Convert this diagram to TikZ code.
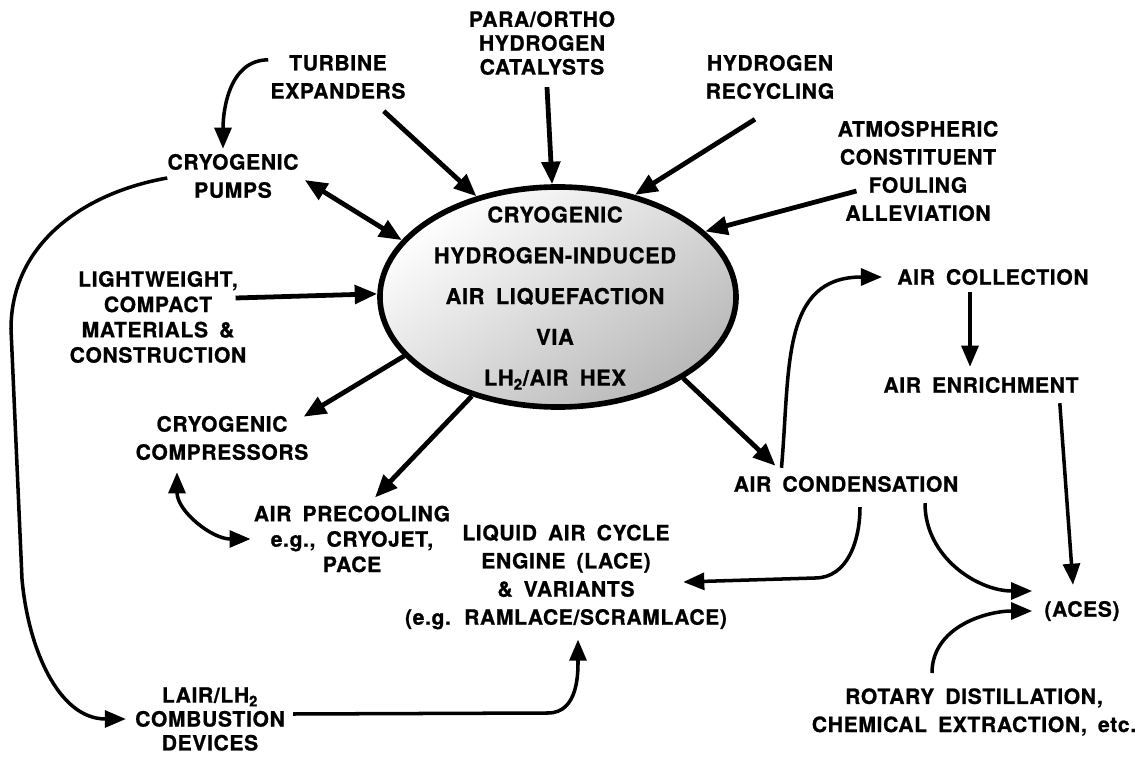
\documentclass[tikz,border=0pt]{standalone}
\usepackage{fontspec}
\setmainfont{TeX Gyre Heros}[WordSpace=1.7, LetterSpace=3, BoldFeatures={FakeBold=0.8}]
\usetikzlibrary{arrows.meta, shapes.geometric, positioning}

\newcommand{\lblfont}{\bfseries\fontsize{15}{20}\selectfont}
\newcommand{\hexfont}{\bfseries\fontsize{15.5}{29}\selectfont}

\tikzset{
  lbl/.style={font=\lblfont, align=center, inner sep=0pt},
  spoke/.style={-{Triangle[length=16pt,width=13pt]}, line width=3.4pt},
  dblspoke/.style={{Triangle[length=16pt,width=13pt]}-{Triangle[length=16pt,width=13pt]}, line width=3.4pt},
  arr/.style={-{Triangle[length=15pt,width=12pt]}, line width=2.5pt},
  dblarr/.style={{Triangle[length=15pt,width=12pt]}-{Triangle[length=15pt,width=12pt]}, line width=2.5pt},
  hexoval/.style={ellipse, draw, line width=4pt, minimum width=8.9cm, minimum height=5.5cm,
    inner sep=0pt, top color=white, bottom color=black!28, shading angle=35},
}

\begin{document}
\begin{tikzpicture}[x=0.025cm, y=0.025cm]
  \useasboundingbox (0,0) rectangle (1147,759);
  % Central oval
  \node[hexoval] (hex) at (558,462) {};
  \node[font=\hexfont, align=center, inner sep=0pt] (hextext) at (555,461)
    {CRYOGENIC\\HYDROGEN-INDUCED\\AIR LIQUEFACTION\\VIA\\LH\textsubscript{2}/AIR HEX};
  % Labels round the top
  \node[lbl] (turbine) at (338,682) {TURBINE\\EXPANDERS};
  \node[lbl] (catalyst) at (542,716) {PARA/ORTHO\\[-3pt]HYDROGEN\\[-3pt]CATALYSTS};
  \node[lbl] (recycling) at (770,682) {HYDROGEN\\RECYCLING};
  \node[lbl] (fouling) at (918,588) {ATMOSPHERIC\\CONSTITUENT\\FOULING\\ALLEVIATION};
  % Labels on the left
  \node[lbl] (pumps) at (233,583) {CRYOGENIC\\PUMPS};
  \node[lbl] (lightweight) at (158,442) {LIGHTWEIGHT,\\[-2pt]COMPACT\\[-2pt]MATERIALS \&\\[-2pt]CONSTRUCTION};
  \node[lbl] (compressors) at (222,321) {CRYOGENIC\\COMPRESSORS};
  \node[lbl] (precooling) at (352,220) {AIR PRECOOLING\\[-2pt]e.g., CRYOJET,\\[-2pt]PACE};
  \node[lbl] (combustion) at (210,40) {LAIR/LH\textsubscript{2}\\[-3pt]COMBUSTION\\[-3pt]DEVICES};
  % Labels at the bottom and right
  \node[lbl] (lace) at (566,182) {LIQUID AIR CYCLE\\ENGINE (LACE)\\\& VARIANTS\\(e.g. RAMLACE/SCRAMLACE)};
  \node[lbl] (collection) at (993,482) {AIR COLLECTION};
  \node[lbl] (enrichment) at (981,374) {AIR ENRICHMENT};
  \node[lbl] (condensation) at (846,275) {AIR CONDENSATION};
  \node[lbl] (aces) at (1082,148) {(ACES)};
  \node[lbl] (rotary) at (974,47) {ROTARY DISTILLATION,\\CHEMICAL EXTRACTION, etc.};
  % Spokes into the oval
  \draw[spoke] ([shift={(-22,-12)}]turbine.south east) -- (hex.129);
  \draw[spoke] ([shift={(5,-12)}]catalyst.south) -- (hex.93);
  \draw[spoke] ([shift={(-15,-20)}]recycling.south) -- (hex.53);
  \draw[spoke] ([shift={(19,-20)}]fouling.west) -- (hex.24);
  \draw[spoke] ([shift={(-11,19)}]lightweight.east) -- (hex.179);
  \draw[dblspoke] ([shift={(6,-4)}]pumps.east) -- (hex.160);
  % Spokes out of the oval
  \draw[spoke] (hex.201) -- ([shift={(-5,-1)}]compressors.north east);
  \draw[spoke] (hex.229) -- ([shift={(23,8)}]precooling.north);
  \draw[spoke] (hex.-33) -- ([shift={(42,10)}]condensation.north west);
  % Left side loops
  \draw[arr] ([shift={(-2,-5)}]turbine.north west) to[out=180,in=90] ([shift={(-10,5)}]pumps.north);
  \draw[dblarr] ([shift={(-45,-12)}]compressors.south) to[out=-90,in=180] ([shift={(-3,0)}]precooling.west);
  \draw[arr] ([shift={(0,-2)}]pumps.west) to[out=190,in=90] (11,430) -- (22,180)
    to[out=-85,in=180] ([shift={(-9,0)}]combustion.west);
  \draw[arr] ([shift={(8,5)}]combustion.east) -- (548,46) to[out=0,in=-90] ([shift={(12,-10)}]lace.south);
  % Air condensation branches
  \draw[arr] ([shift={(48,8)}]condensation.north west) to[out=85,in=180,looseness=1.2] ([shift={(-15,0)}]collection.west);
  \draw[arr] ([shift={(14,-15)}]condensation.south) to[out=-90,in=0] (815,181) -- ([shift={(-44,-5)}]lace.east);
  \draw[arr] ([shift={(79,-11)}]condensation.south) to[out=-90,in=180] ([shift={(-12,20)}]aces.west);
  \draw[arr] ([shift={(-42,15)}]rotary.north) to[out=90,in=180] ([shift={(-12,0)}]aces.west);
  % Collection, enrichment, ACES
  \draw[arr] ([shift={(-23,-7)}]collection.south) -- ([shift={(-11,10)}]enrichment.north);
  \draw[arr] ([shift={(-19,-10)}]enrichment.south east) -- ([shift={(-9,16)}]aces.north);
\end{tikzpicture}
\end{document}
